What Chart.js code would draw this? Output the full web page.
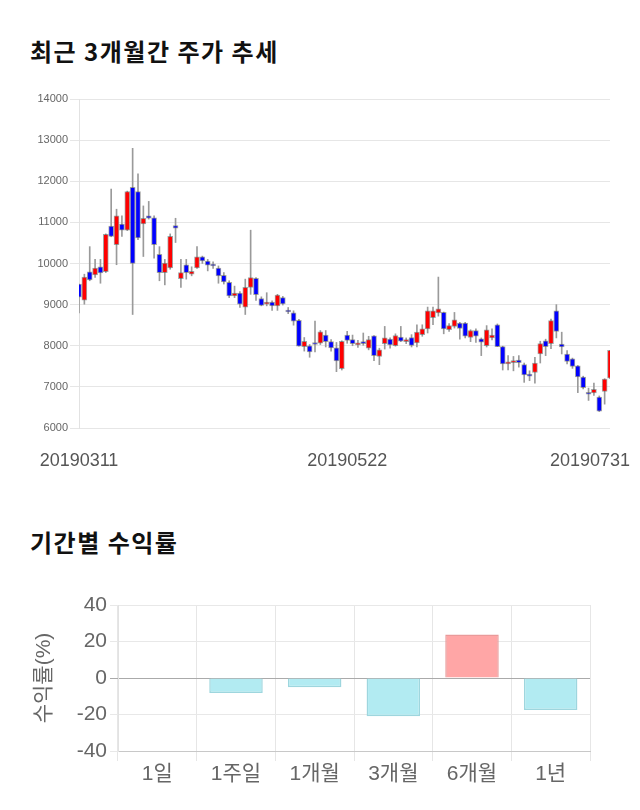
<!DOCTYPE html>
<html><head><meta charset="utf-8">
<script src="https://cdn.jsdelivr.net/npm/chart.js@4.4.0/dist/chart.umd.min.js"></script>
<style>
html,body{margin:0;padding:0;background:#fff;width:640px;height:810px;overflow:hidden;}
.title{position:absolute;left:30px;font-family:"Noto Sans CJK KR",sans-serif;font-weight:bold;font-size:24px;letter-spacing:1.5px;color:#111;margin:0;line-height:1;white-space:nowrap;}
#w1{position:absolute;left:0;top:80px;width:640px;height:400px;}
#w2{position:absolute;left:0;top:580px;width:640px;height:220px;}
</style></head><body>
<div class="title" style="top:39px">최근 3개월간 주가 추세</div>
<div class="title" style="top:530px">기간별 수익률</div>
<div id="w1"><canvas id="c1" width="640" height="400"></canvas></div>
<div id="w2"><canvas id="c2" width="640" height="220"></canvas></div>
<script>
const dates = [
'20190311','20190312','20190313','20190314','20190315','20190318','20190319','20190320','20190321','20190322','20190325','20190326','20190327','20190328','20190329',
'20190401','20190402','20190403','20190404','20190405','20190408','20190409','20190410','20190411','20190412','20190415','20190416','20190417','20190418','20190419','20190422','20190423','20190424','20190425','20190426','20190429','20190430',
'20190502','20190503','20190507','20190508','20190509','20190510','20190513','20190514','20190515','20190516','20190517','20190520','20190521','20190522','20190523','20190524','20190527','20190528','20190529','20190530','20190531',
'20190603','20190604','20190605','20190607','20190610','20190611','20190612','20190613','20190614','20190617','20190618','20190619','20190620','20190621','20190624','20190625','20190626','20190627','20190628',
'20190701','20190702','20190703','20190704','20190705','20190708','20190709','20190710','20190711','20190712','20190715','20190716','20190717','20190718','20190719','20190722','20190723','20190724','20190725','20190726','20190729','20190730','20190731'];
const opens = [9500,9110,9800,9720,9920,9800,10910,10460,10960,10810,11850,11750,10960,11160,11110,10220,9780,9890,10920,9630,
9970,9740,9890,10160,10060,9960,9890,9710,9540,9210,9280,8940,9420,9640,9150,9010,9060,8970,9170,8840,
8800,8620,7980,8000,8060,8060,8260,8100,7950,7440,8260,8150,8020,8060,7940,8240,7740,8050,8160,8000,
8210,8100,8200,8070,8270,8410,8680,8800,8810,8390,8470,8550,8550,8200,8370,8170,8000,8190,8510,7980,
7560,7590,7650,7540,7310,7350,7800,8120,8050,8850,8040,7800,7680,7510,7240,6870,6850,6750,6890,7210];
const highs = [9500,9740,10410,10100,10100,10720,11810,11320,11160,11760,12800,12180,11400,11510,11160,10410,10100,10720,11100,10100,
10100,9920,10410,10180,10100,10040,9940,9780,9580,9450,9320,9620,10810,9660,9190,9290,9090,9250,9200,8930,
8850,8640,8200,8030,8600,8370,8370,8150,8080,8120,8350,8260,8130,8310,8230,8250,7940,8470,8190,8290,
8470,8190,8270,8510,8510,8940,8940,9670,8820,8540,8810,8570,8570,8390,8410,8190,8490,8410,8530,7990,
7760,7740,7760,7580,7390,7720,8110,8160,8650,9000,8330,7880,7700,7520,7260,6970,7090,6780,7200,7890];
const lows = [8800,9010,9580,9660,9520,9780,10650,9970,10660,10800,8760,10580,10170,11080,10130,9580,9480,9860,10510,9420,
9620,9700,9880,10000,9820,9880,9520,9500,9170,9170,8930,8760,9250,9100,8970,8970,8860,8860,8990,8780,
8500,7990,7870,7720,7850,8030,7970,7870,7370,7410,8060,8000,7960,8010,7900,7640,7540,7920,7940,7990,
8100,8050,7970,7970,8230,8310,8510,8720,8290,8350,8430,8160,8190,8100,8080,7760,7970,8140,7980,7410,
7410,7390,7480,7110,7150,7090,7580,7760,7930,8190,7800,7560,7450,6860,6950,6670,6790,6400,6580,7200];
const closes = [9180,9670,9600,9890,9770,10710,10660,11160,10810,11750,10000,10620,11100,11100,10460,9780,10010,10660,10860,9780,
9780,9810,10160,10060,9960,9940,9700,9550,9210,9280,9010,9420,9660,9240,8980,9060,8970,9230,9020,8820,
8600,7990,8110,7850,8030,8340,8100,7950,7630,8110,8130,8050,8060,8050,8150,7760,7900,8190,8020,8250,
8110,8140,8010,8330,8410,8850,8850,8900,8410,8490,8630,8420,8230,8370,8230,8090,8390,8260,7980,7560,
7600,7630,7590,7290,7260,7580,8050,7980,8610,8350,7970,7620,7500,7240,6980,6820,6940,6410,7190,7890];
const dateTicks = ['20190311','20190522','20190731'];

const periods = ['1일','1주일','1개월','3개월','6개월','1년'];
const returns = [0,-8.2,-5.1,-20.9,23.8,-17.6];

const numFont = '"Liberation Sans", Arial, "Noto Sans CJK KR", sans-serif';

const dateLabelPlugin = {
  id:'dateLabels',
  afterDraw(chart){
    const ctx = chart.ctx, xs = chart.scales.x;
    ctx.save();
    ctx.font = '18px ' + numFont;
    ctx.fillStyle = '#555';
    ctx.textAlign = 'center';
    ctx.textBaseline = 'middle';
    dateTicks.forEach(d => {
      const i = dates.indexOf(d);
      let x = xs.getPixelForValue(i);
      const w = ctx.measureText(d).width;
      x = Math.min(Math.max(x, w/2 + 2), chart.width - 10 - w/2);
      ctx.fillText(d, x, chart.chartArea.bottom + 33);
    });
    ctx.restore();
  }
};

new Chart(document.getElementById('c1'), {
  type:'bar',
  data:{
    labels: dates,
    datasets:[
      { data: lows.map((l,i)=>[l, highs[i]]), backgroundColor:'#9a9a9a', barThickness:1, grouped:false, order:2, clip:0 },
      { data: opens.map((o,i)=>[o, closes[i]]),
        backgroundColor: opens.map((o,i)=> closes[i] >= o ? '#ff0000' : '#0000ff'),
        borderColor:'rgba(90,90,90,0.55)', borderWidth:1, borderSkipped:false,
        barThickness:5, minBarLength:2, grouped:false, order:1, clip:0 }
    ]
  },
  options:{
    responsive:false, animation:false,
    layout:{padding:{left:0,right:30,top:19,bottom:52}},
    plugins:{legend:{display:false}, tooltip:{enabled:false}},
    scales:{
      x:{display:false, offset:false},
      y:{min:6000,max:14000,
         ticks:{stepSize:1000,color:'#666',font:{size:11,family:numFont},padding:2,callback:v=>String(v)},
         grid:{color:'#e6e6e6',tickLength:9},
         border:{color:'#e2e2e2'},
         afterFit(s){ s.width = 79; }}
    }
  },
  plugins:[dateLabelPlugin]
});

new Chart(document.getElementById('c2'), {
  type:'bar',
  data:{
    labels: periods,
    datasets:[{
      data: returns,
      backgroundColor: returns.map(v => v > 0 ? '#ffa6a6' : (v < 0 ? '#b2ebf2' : 'rgba(0,0,0,0)')),
      borderColor: returns.map(v => v > 0 ? '#e99a9a' : (v < 0 ? '#9ed6de' : 'rgba(0,0,0,0)')),
      borderWidth:1.5,
      categoryPercentage:0.8, barPercentage:0.85
    }]
  },
  options:{
    responsive:false, animation:false,
    layout:{padding:{left:32,right:50,top:25,bottom:0}},
    plugins:{legend:{display:false}, tooltip:{enabled:false}},
    scales:{
      x:{grid:{color:'#e6e6e6',tickLength:10,offset:true},
         border:{color:'#c8c8c8'},
         ticks:{color:'#666',font:{size:21,family:numFont},padding:1},
         afterFit(s){ s.height = 49; }},
      y:{min:-40,max:40,
         ticks:{stepSize:20,color:'#666',font:{size:21,family:numFont},padding:3},
         grid:{color: c => (c.tick && c.tick.value === 0) ? '#aaaaaa' : '#e8e8e8', tickLength:8},
         border:{color:'#e2e2e2'},
         title:{display:true,text:'수익률(%)',color:'#666',font:{size:21,family:numFont},padding:{top:0,bottom:4}},
         afterFit(s){ s.width = 86; }}
    }
  }
});
</script>
</body></html>
